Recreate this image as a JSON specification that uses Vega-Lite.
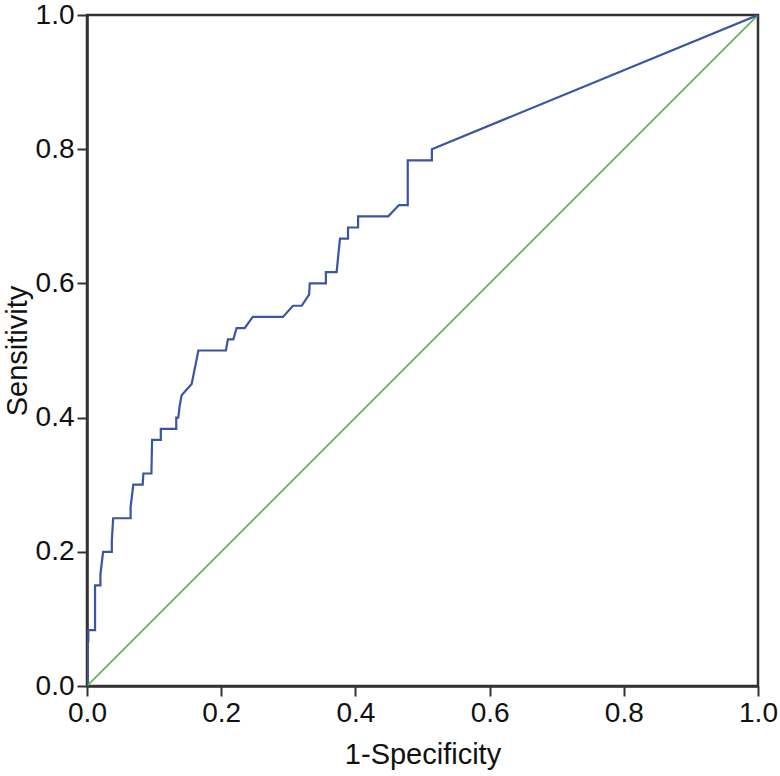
{
  "$schema": "https://vega.github.io/schema/vega-lite/v6.json",
  "autosize": "none",
  "width": 671,
  "height": 671,
  "padding": {"left": 87, "top": 15, "right": 22, "bottom": 90},
  "background": "white",
  "config": {
    "view": {"stroke": "#333333", "strokeWidth": 2.5},
    "font": "Liberation Sans",
    "axis": {
      "grid": false,
      "domainColor": "#333333",
      "domainWidth": 2.5,
      "tickColor": "#333333",
      "tickWidth": 2,
      "tickSize": 10,
      "labelFont": "Liberation Sans",
      "labelFontSize": 28,
      "labelColor": "#111111",
      "labelPadding": 3,
      "titleFont": "Liberation Sans",
      "titleFontSize": 29,
      "titleFontWeight": "normal",
      "titleColor": "#111111"
    }
  },
  "layer": [
    {
      "data": {"values": [{"x": 0, "y": 0, "i": 0}, {"x": 1, "y": 1, "i": 1}]},
      "mark": {"type": "line", "color": "#5DB55A", "strokeWidth": 1.8, "clip": true},
      "encoding": {
        "x": {"field": "x", "type": "quantitative", "scale": {"domain": [0, 1], "nice": false}, "axis": {"values": [0, 0.2, 0.4, 0.6, 0.8, 1], "format": ".1f", "title": "1-Specificity", "titlePadding": 13, "labelFlush": false}},
        "y": {"field": "y", "type": "quantitative", "scale": {"domain": [0, 1], "nice": false}, "axis": {"values": [0, 0.2, 0.4, 0.6, 0.8, 1], "format": ".1f", "title": "Sensitivity", "titlePadding": 3, "labelFlush": false}},
        "order": {"field": "i", "type": "quantitative"}
      }
    },
    {
      "data": {"values": [
        {"i": 0, "x": 0, "y": 0},
        {"i": 1, "x": 0, "y": 0.0667},
        {"i": 2, "x": 0.002, "y": 0.0667},
        {"i": 3, "x": 0.002, "y": 0.0833},
        {"i": 4, "x": 0.012, "y": 0.0833},
        {"i": 5, "x": 0.012, "y": 0.15},
        {"i": 6, "x": 0.020, "y": 0.15},
        {"i": 7, "x": 0.020, "y": 0.1667},
        {"i": 8, "x": 0.022, "y": 0.1833},
        {"i": 9, "x": 0.024, "y": 0.2},
        {"i": 10, "x": 0.037, "y": 0.2},
        {"i": 11, "x": 0.037, "y": 0.2167},
        {"i": 12, "x": 0.039, "y": 0.25},
        {"i": 13, "x": 0.065, "y": 0.25},
        {"i": 14, "x": 0.065, "y": 0.2667},
        {"i": 15, "x": 0.069, "y": 0.3},
        {"i": 16, "x": 0.083, "y": 0.3},
        {"i": 17, "x": 0.084, "y": 0.3167},
        {"i": 18, "x": 0.096, "y": 0.3167},
        {"i": 19, "x": 0.097, "y": 0.3667},
        {"i": 20, "x": 0.110, "y": 0.3667},
        {"i": 21, "x": 0.110, "y": 0.3833},
        {"i": 22, "x": 0.133, "y": 0.3833},
        {"i": 23, "x": 0.133, "y": 0.4},
        {"i": 24, "x": 0.136, "y": 0.4},
        {"i": 25, "x": 0.138, "y": 0.4167},
        {"i": 26, "x": 0.141, "y": 0.4333},
        {"i": 27, "x": 0.156, "y": 0.45},
        {"i": 28, "x": 0.166, "y": 0.5},
        {"i": 29, "x": 0.207, "y": 0.5},
        {"i": 30, "x": 0.210, "y": 0.5167},
        {"i": 31, "x": 0.218, "y": 0.5167},
        {"i": 32, "x": 0.223, "y": 0.5333},
        {"i": 33, "x": 0.235, "y": 0.5333},
        {"i": 34, "x": 0.247, "y": 0.55},
        {"i": 35, "x": 0.292, "y": 0.55},
        {"i": 36, "x": 0.307, "y": 0.5667},
        {"i": 37, "x": 0.320, "y": 0.5667},
        {"i": 38, "x": 0.331, "y": 0.5833},
        {"i": 39, "x": 0.332, "y": 0.6},
        {"i": 40, "x": 0.356, "y": 0.6},
        {"i": 41, "x": 0.356, "y": 0.6167},
        {"i": 42, "x": 0.372, "y": 0.6167},
        {"i": 43, "x": 0.377, "y": 0.6667},
        {"i": 44, "x": 0.389, "y": 0.6667},
        {"i": 45, "x": 0.389, "y": 0.6833},
        {"i": 46, "x": 0.404, "y": 0.6833},
        {"i": 47, "x": 0.404, "y": 0.7},
        {"i": 48, "x": 0.449, "y": 0.7},
        {"i": 49, "x": 0.465, "y": 0.7167},
        {"i": 50, "x": 0.478, "y": 0.7167},
        {"i": 51, "x": 0.478, "y": 0.7833},
        {"i": 52, "x": 0.514, "y": 0.7833},
        {"i": 53, "x": 0.514, "y": 0.8},
        {"i": 54, "x": 1, "y": 1}
      ]},
      "mark": {"type": "line", "color": "#3B54A5", "strokeWidth": 2.2, "clip": true},
      "encoding": {
        "x": {"field": "x", "type": "quantitative"},
        "y": {"field": "y", "type": "quantitative"},
        "order": {"field": "i", "type": "quantitative"}
      }
    }
  ]
}
